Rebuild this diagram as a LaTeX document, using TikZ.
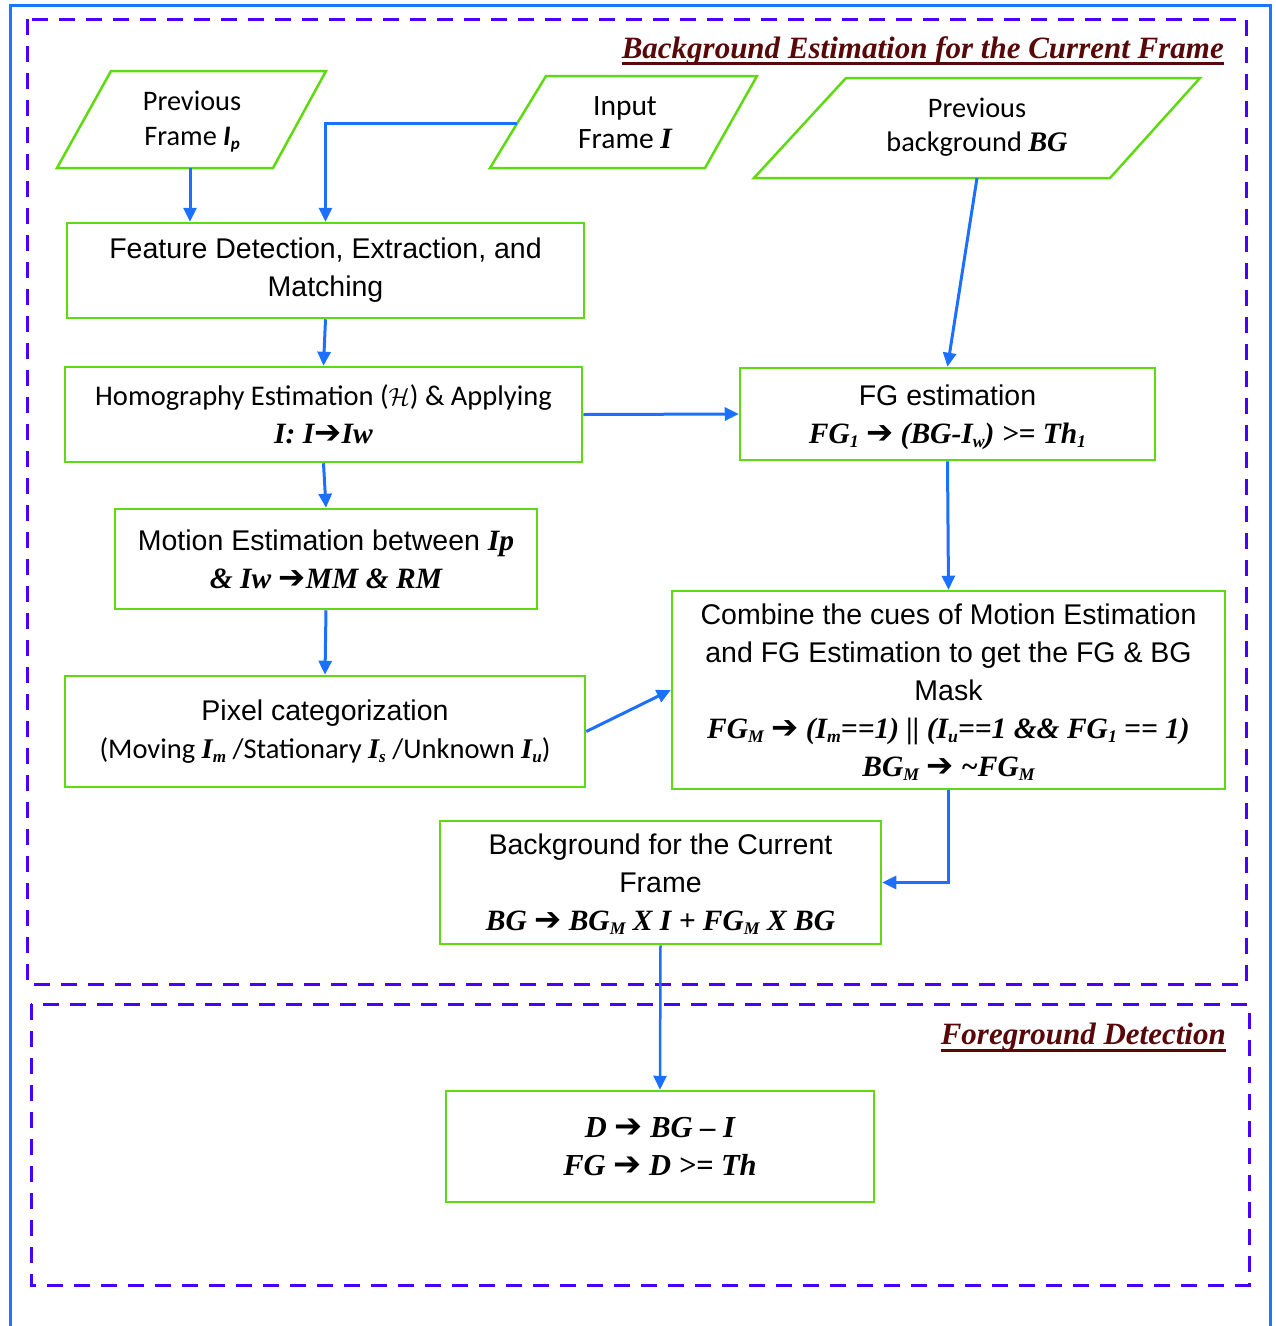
\documentclass[tikz,border=0pt]{standalone}
\usepackage{fontspec}
\usetikzlibrary{arrows.meta}
\setmainfont{Liberation Sans}
\newfontfamily\calib{Carlito}
\newfontfamily\tnr{Liberation Serif}
\newfontfamily\dvs{DejaVu Sans}
\definecolor{grn}{RGB}{96,218,16}
\definecolor{arrblue}{RGB}{28,112,255}
\definecolor{dashcol}{RGB}{74,0,255}
\definecolor{outblue}{RGB}{30,118,255}
\definecolor{ttlred}{RGB}{88,8,8}
\newcommand\fm[1]{{\tnr\bfseries\itshape #1}}
\newcommand\harr{{\dvs\bfseries\upshape\scalebox{1.1}{➔}}}
\newcommand\sbs[1]{\raisebox{-0.3ex}{\scalebox{0.6}{#1}}}
\begin{document}
\begin{tikzpicture}[x=1pt,y=-1pt,
  box/.style={draw=grn,line width=2.5pt,align=center,inner sep=0pt,font=\fontsize{28.5}{38}\selectfont},
  fx/.style={font=\fontsize{29.5}{38}\selectfont},
  arr/.style={draw=arrblue,line width=3pt,-{Triangle[length=14pt,width=13pt]}},
  frm/.style={draw=dashcol,line width=3pt,dash pattern=on 16pt off 11pt},
  ttl/.style={text=ttlred,font=\tnr\bfseries\itshape\fontsize{31}{36}\selectfont,inner sep=0pt},
  ul/.style={draw=ttlred,line width=3pt},
  para/.style={draw=grn,line width=2.5pt},
  ptxt/.style={align=center,inner sep=0pt}]
\useasboundingbox (0,0) rectangle (1276,1326);
\draw[draw=outblue,line width=3pt] (10,1326) -- (10,5) -- (1270,5) -- (1270,1326);
\draw[frm] (27,19) rectangle (1246,984);
\draw[frm] (31,1004) rectangle (1249,1285);
% titles
\node[ttl,anchor=base east] (t1) at (1224,58) {Background Estimation for the Current Frame};
\draw[ul] ([yshift=-5pt]t1.base west) -- ([yshift=-5pt]t1.base east);
\node[ttl,anchor=base east] (t2) at (1226,1044) {Foreground Detection};
\draw[ul] ([yshift=-6pt]t2.base west) -- ([yshift=-6pt]t2.base east);
% parallelograms
\draw[para] (111,71) -- (326,71) -- (273,168) -- (57,168) -- cycle;
\node[ptxt,font=\calib\fontsize{28.3}{35}\selectfont] (pf) at (192,122) {Previous\\Frame {\bfseries\itshape I\sbs{p}}};
\coordinate (pfb) at (190,168);
\draw[para] (546,76) -- (757,76) -- (705,168) -- (490,168) -- cycle;
\node[ptxt,font=\calib\fontsize{29.5}{33}\selectfont] (inp) at (625,123) {Input\\Frame \fm{I}};
\coordinate (inpl) at (517,123);
\draw[para] (846,78) -- (1200,78) -- (1110,178) -- (754,178) -- cycle;
\node[ptxt,font=\calib\fontsize{28.3}{34}\selectfont] (pbg) at (977,127) {Previous\\background \fm{BG}};
\coordinate (pbgb) at (977,178);
% boxes
\node[box,minimum width=517pt,minimum height=95pt] (feat) at (325.5,270.5) {Feature Detection, Extraction, and\\Matching};
\node[box,minimum width=517pt,minimum height=95pt] (homo) at (323.5,414.5) {{\calib Homography Estimation ($\mathcal{H}$) \& Applying}\\{\fontsize{29.5}{38}\selectfont\fm{I: I\harr Iw}}};
\node[box,text depth=0pt,minimum width=415pt,minimum height=92pt] (fge) at (947.5,414) {FG estimation\\{\fontsize{29.5}{38}\selectfont\fm{FG\sbs{1} \harr{} (BG-I\sbs{w}) >= Th\sbs{1}}}};
\node[box,minimum width=422pt,minimum height=100pt] (mot) at (326,559) {Motion Estimation between {\fontsize{29.5}{38}\selectfont\fm{Ip}}\\{\fontsize{29.5}{38}\selectfont\fm{\& Iw \harr MM \& RM}}};
\node[box,minimum width=520pt,minimum height=111pt] (pix) at (325,731.5) {Pixel categorization\\{\calib (Moving \fm{I\sbs{m}} /Stationary \fm{I\sbs{s}} /Unknown \fm{I\sbs{u}})}};
\node[box,text depth=0pt,minimum width=553pt,minimum height=198pt] (cmb) at (948.5,690) {Combine the cues of Motion Estimation\\and FG Estimation to get the FG \& BG\\Mask\\{\fontsize{29.5}{38}\selectfont\fm{FG\sbs{M} \harr{} (I\sbs{m}==1) || (I\sbs{u}==1 \&\& FG\sbs{1} == 1)}}\\{\fontsize{29.5}{38}\selectfont\fm{BG\sbs{M} \harr{} \textasciitilde FG\sbs{M}}}};
\node[box,text depth=0pt,minimum width=441pt,minimum height=123pt] (bgc) at (660.5,882.5) {Background for the Current\\Frame\\{\fontsize{29.5}{38}\selectfont\fm{BG \harr{} BG\sbs{M} X I + FG\sbs{M} X BG}}};
\node[box,minimum width=428pt,minimum height=111pt,font=\fontsize{30.5}{38}\selectfont] (fgd) at (660,1146.5) {\fm{D \harr{} BG – I}\\\fm{FG \harr{} D >= Th}};
% connectors
\draw[arr] (pfb) -- (pfb |- feat.north);
\draw[arr] (inpl) -| (feat.north);
\draw[arr] (pbgb) -- (fge.north);
\draw[arr] (feat.south) -- (homo.north);
\draw[arr] (homo.east) -- (fge.west);
\draw[arr] (homo.south) -- (mot.north);
\draw[arr] (mot.south) -- (pix.north);
\draw[arr] (fge.south) -- (cmb.north);
\draw[arr] (pix.east) -- (cmb.west);
\draw[arr] (cmb.south) |- (bgc.east);
\draw[arr,line width=2.5pt] (bgc.south) -- (fgd.north);
\end{tikzpicture}
\end{document}
